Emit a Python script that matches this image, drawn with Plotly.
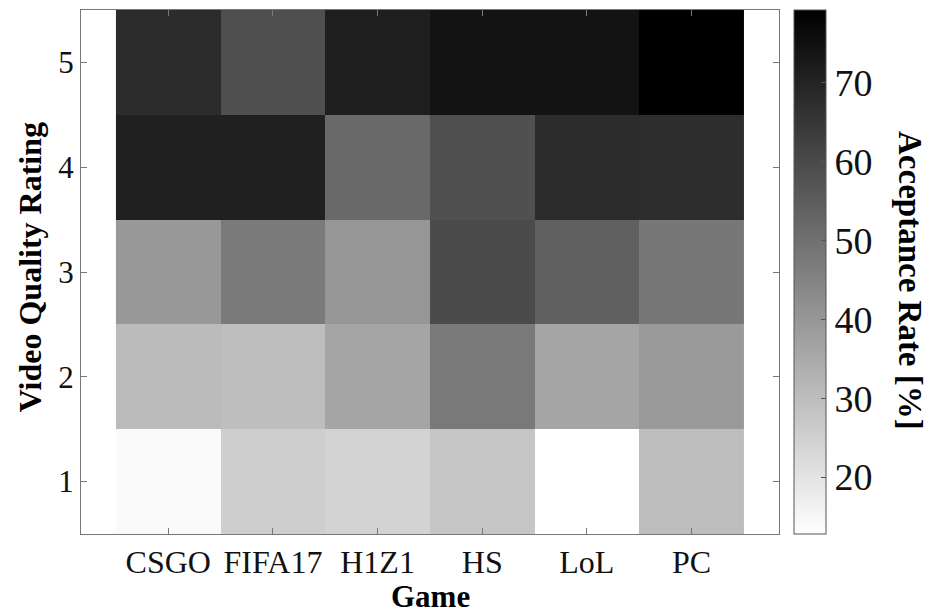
import plotly.graph_objects as go

games = ["CSGO", "FIFA17", "H1Z1", "HS", "LoL", "PC"]
ratings = [1, 2, 3, 4, 5]

# Acceptance rate [%] per rating (rows) and game (columns)
rate_r1 = [14.1, 25.6, 24.3, 27.6, 12.8, 30.0]
rate_r2 = [30.5, 29.7, 36.2, 47.7, 36.2, 39.1]
rate_r3 = [39.6, 47.4, 40.1, 59.7, 54.2, 48.2]
rate_r4 = [70.9, 70.9, 51.9, 58.4, 67.7, 67.5]
rate_r5 = [67.7, 58.6, 71.4, 74.3, 74.3, 79.2]

cbar_ticks = [20, 30, 40, 50, 60, 70]

z = [rate_r1, rate_r2, rate_r3, rate_r4, rate_r5]

FONT = "Liberation Serif"

fig = go.Figure(
    go.Heatmap(
        x=games,
        y=ratings,
        z=z,
        zmin=12.8,
        zmax=79.2,
        colorscale=[[0, "#ffffff"], [1, "#000000"]],
        colorbar=dict(
            x=1.0215,
            xanchor="left",
            y=0.5,
            yanchor="middle",
            len=1.0,
            lenmode="fraction",
            thickness=32,
            thicknessmode="pixels",
            outlinecolor="#555555",
            outlinewidth=1,
            tickvals=cbar_ticks,
            ticks="inside",
            ticklen=5,
            tickcolor="#555555",
            tickfont=dict(family=FONT, size=38, color="#111111"),
            xpad=0,
            ypad=0,
        ),
    )
)

title_font = dict(family=FONT, size=32, color="#000000")

fig.add_annotation(
    text="<b>Acceptance Rate [%]</b>",
    xref="paper", yref="paper",
    x=1.1875, y=0.483,
    xanchor="center", yanchor="middle",
    textangle=90, showarrow=False,
    borderpad=0,
    font=dict(family=FONT, size=33, color="#000000"),
)
fig.add_annotation(
    text="<b>Video Quality Rating</b>",
    xref="paper", yref="paper",
    x=-0.0726, y=0.5095,
    xanchor="center", yanchor="middle",
    textangle=-90, showarrow=False,
    font=title_font,
)
fig.add_annotation(
    text="<b>Game</b>",
    xref="paper", yref="paper",
    x=0.5, y=-0.119,
    xanchor="center", yanchor="middle",
    showarrow=False,
    borderpad=0,
    font=dict(family=FONT, size=31, color="#000000"),
)

fig.update_layout(
    width=929,
    height=615,
    margin=dict(l=81, r=150, t=10, b=80.5, autoexpand=False),
    paper_bgcolor="white",
    plot_bgcolor="white",
    font=dict(family=FONT, color="#000000"),
    xaxis=dict(
        type="category",
        range=[-0.834, 5.836],
        automargin=False,
        showline=True,
        linecolor="#777777",
        linewidth=1,
        mirror="ticks",
        ticks="inside",
        ticklen=6,
        tickcolor="#777777",
        showgrid=False,
        zeroline=False,
        tickfont=dict(family=FONT, size=32, color="#111111"),
    ),
    yaxis=dict(
        range=[0.5, 5.5],
        tickvals=ratings,
        automargin=False,
        showline=True,
        linecolor="#777777",
        linewidth=1,
        mirror="ticks",
        ticks="inside",
        ticklen=6,
        tickcolor="#777777",
        showgrid=False,
        zeroline=False,
        tickfont=dict(family=FONT, size=31, color="#111111"),
    ),
)

fig.write_html("out.html")
